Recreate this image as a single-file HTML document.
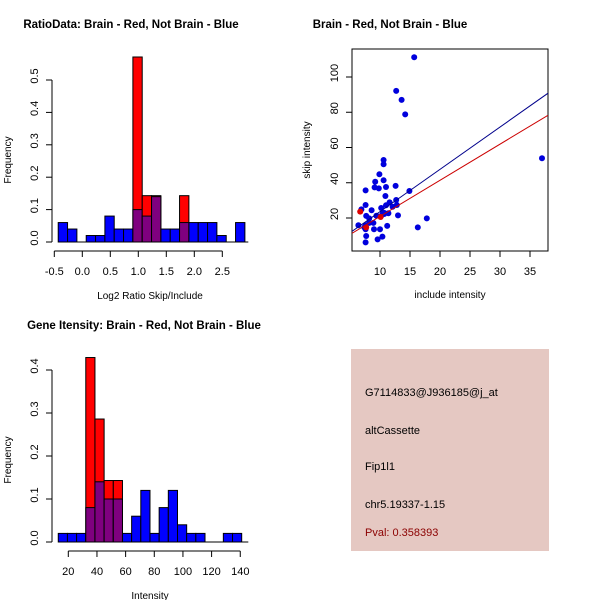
<!DOCTYPE html>
<html><head><meta charset="utf-8"><style>
body{margin:0;background:#fff;}
svg{display:block;font-family:"Liberation Sans",sans-serif;}
</style></head><body>
<svg id="c" width="600" height="600" viewBox="0 0 600 600" xmlns="http://www.w3.org/2000/svg">
<rect width="600" height="600" fill="#fff"/>
<g id="p1"></g>
<g id="p2"></g>
<g id="p3"></g>
<g>
<rect x="351" y="349" width="198" height="202" fill="#e5c8c2"/>
<text x="365" y="396" font-size="11" fill="#000">G7114833@J936185@j_at</text>
<text x="365" y="434" font-size="11" fill="#000">altCassette</text>
<text x="365" y="470" font-size="11" fill="#000">Fip1l1</text>
<text x="365" y="508" font-size="11" fill="#000">chr5.19337-1.15</text>
<text x="365" y="536" font-size="11" fill="#8b0000">Pval: 0.358393</text>
</g>
</svg>
<script>
// Ratio histogram data
const ratioBinStart = -0.43;
const ratioBinWidth = 1/6;
const ratioBlue = [0.06,0.04,0,0.02,0.02,0.08,0.04,0.04,0.10,0.08,0.14,0.04,0.04,0.06,0.06,0.06,0.06,0.02,0,0.06];
const ratioRed  = [0,0,0,0,0,0,0,0,0.571,0.143,0.143,0,0,0.143,0,0,0,0,0,0];
const ratioXTicks = [-0.5,0,0.5,1,1.5,2,2.5];
const ratioXTickLabels = ["-0.5","0.0","0.5","1.0","1.5","2.0","2.5"];
const ratioYTicks = [0,0.1,0.2,0.3,0.4,0.5];
const ratioYTickLabels = ["0.0","0.1","0.2","0.3","0.4","0.5"];

// Intensity histogram data
const intBinStart = 13;
const intBinWidth = 6.4;
const intBlue = [0.02,0.02,0.02,0.08,0.14,0.10,0.10,0.02,0.06,0.12,0.02,0.08,0.12,0.04,0.02,0.02,0,0,0.02,0.02];
const intRed  = [0,0,0,0.429,0.286,0.143,0.143,0,0,0,0,0,0,0,0,0,0,0,0,0];
const intXTicks = [20,40,60,80,100,120,140];
const intXTickLabels = ["20","40","60","80","100","120","140"];
const intYTicks = [0,0.1,0.2,0.3,0.4];
const intYTickLabels = ["0.0","0.1","0.2","0.3","0.4"];

// Scatter data
const scatterX = [15.7,12.7,13.6,14.2,37.0,10.6,10.6,9.9,9.2,10.6,9.8,9.1,7.6,11.0,12.6,10.9,14.9,12.7,11.6,11.0,12.8,10.5,7.6,6.9,8.6,7.7,8.2,9.4,10.2,10.7,11.4,13.0,12.1,6.4,17.8,16.3,11.2,7.6,7.4,8.9,8.2,7.6,9.0,10.0,7.7,10.4,9.6,7.6,10.7,10.2];
const scatterY = [111.2,92.1,87.0,78.8,53.9,52.9,50.5,44.8,40.6,41.4,36.8,37.4,35.7,37.6,38.2,32.5,35.3,30.2,28.9,27.2,27.4,23.0,27.4,24.9,24.4,21.2,19.8,21.3,25.7,22.9,22.7,21.5,26.4,15.9,19.8,14.7,15.5,15.9,14.7,17.2,17.2,13.6,13.6,13.6,9.8,9.4,7.9,6.2,22.3,21.2];
const redX = [6.7,10.1,7.7];
const redY = [23.6,20.6,14.7];
const blueFit = [-0.4, 2.4];   // intercept, slope
const redFit = [0.4, 2.05];
const scXTicks = [10,15,20,25,30,35];
const scYTicks = [20,40,60,80,100];

const NS="http://www.w3.org/2000/svg";
function el(parent, tag, attrs){const e=document.createElementNS(NS,tag);for(const k in attrs)e.setAttribute(k,attrs[k]);parent.appendChild(e);return e;}
function txt(parent, x, y, s, size, extra){const t=el(parent,'text',Object.assign({x:x,y:y,'font-size':size,'text-anchor':'middle'},extra||{}));t.textContent=s;return t;}

function hist(g, cfg){
  const sx=v=>cfg.x0+(v-cfg.xmin)*cfg.xs;
  const sy=v=>cfg.y0-v*cfg.ys;
  const n=cfg.blue.length;
  for(let i=0;i<n;i++){
    const a=cfg.start+i*cfg.w, b=a+cfg.w;
    const x1=sx(a), x2=sx(b);
    const bl=cfg.blue[i], rd=cfg.red[i];
    if(rd>0){
      const r=el(g,'rect',{x:x1,y:sy(rd),width:x2-x1,height:sy(0)-sy(rd),fill:'#ff0000',stroke:'#000','stroke-width':1});
      
      
    }
    if(bl>0){
      const col = rd>0 ? '#7f007f' : '#0000ff';
      const r=el(g,'rect',{x:x1,y:sy(bl),width:x2-x1,height:sy(0)-sy(bl),fill:col,stroke:'#000','stroke-width':1});
      
      
    }
  }
  el(g,'line',{x1:sx(cfg.start),x2:cfg.x0+ (cfg.baseEnd),y1:cfg.y0,y2:cfg.y0,stroke:'#000'});
  const ya=el(g,'g',{});
  
  
  const yt=cfg.yticks;
  el(ya,'line',{x1:cfg.ax,x2:cfg.ax,y1:sy(yt[0]),y2:sy(yt[yt.length-1]),stroke:'#000'});
  yt.forEach((v,i)=>{
    el(ya,'line',{x1:cfg.ax-6,x2:cfg.ax,y1:sy(v),y2:sy(v),stroke:'#000'});
    txt(ya,cfg.ax-14,sy(v)+4,cfg.ylabels[i],11,{transform:`rotate(-90 ${cfg.ax-18} ${sy(v)})`});
  });
  const yl=txt(g,0,0,'Frequency',10,{transform:`translate(11 ${cfg.ymid}) rotate(-90)`});
  
  
  const xa=el(g,'g',{});
  
  
  const xt=cfg.xticks;
  el(xa,'line',{x1:sx(xt[0]),x2:sx(xt[xt.length-1]),y1:cfg.axy,y2:cfg.axy,stroke:'#000'});
  xt.forEach((v,i)=>{
    el(xa,'line',{x1:sx(v),x2:sx(v),y1:cfg.axy,y2:cfg.axy+6,stroke:'#000'});
    txt(xa,sx(v),cfg.axy+24,cfg.xlabels[i],11);
  });
  const xl=txt(g,150,cfg.axy+48,cfg.xtitle,10);
  
  
  const tt=txt(g,cfg.tx,cfg.ty,cfg.title,11.5,{'font-weight':'bold'});
  
  
}

hist(document.getElementById('p1'),{x0:54.3,xmin:-0.5,xs:56,y0:242,ys:324,start:ratioBinStart,w:ratioBinWidth,
  blue:ratioBlue,red:ratioRed,baseEnd:194,ax:52,axy:251,xticks:ratioXTicks,xlabels:ratioXTickLabels,
  yticks:ratioYTicks,ylabels:ratioYTickLabels,ymid:160,xtitle:'Log2 Ratio Skip/Include',
  title:'RatioData: Brain - Red, Not Brain - Blue',tx:131,ty:28});
hist(document.getElementById('p3'),{x0:68.3,xmin:20,xs:1.433,y0:542,ys:430,start:intBinStart,w:intBinWidth,
  blue:intBlue,red:intRed,baseEnd:180,ax:52,axy:551,xticks:intXTicks,xlabels:intXTickLabels,
  yticks:intYTicks,ylabels:intYTickLabels,ymid:460,xtitle:'Intensity',
  title:'Gene Itensity: Brain - Red, Not Brain - Blue',tx:144,ty:329});

(function(){
  const g=document.getElementById('p2');
  const L=352,R=548,T=49,B=251;
  const sx=v=>380+(v-10)*6;
  const sy=v=>218-(v-20)*1.7625;
  const xmin=(L-380)/6+10, xmax=(R-380)/6+10;
  el(g,'rect',{x:L,y:T,width:R-L,height:B-T,fill:'none',stroke:'#000'});
  const cp=el(g,'clipPath',{id:'scclip'});
  el(cp,'rect',{x:L,y:T,width:R-L,height:B-T});
  const pts=el(g,'g',{'clip-path':'url(#scclip)'});
  scatterX.forEach((x,i)=>{
    const c=el(pts,'circle',{cx:sx(x),cy:sy(scatterY[i]),r:3,fill:'#0000dd'});
    
    
  });
  redX.forEach((x,i)=>{
    const c=el(pts,'circle',{cx:sx(x),cy:sy(redY[i]),r:3,fill:'#dd0000'});
    
    
  });
  const bl=el(pts,'line',{x1:sx(xmin),y1:sy(blueFit[0]+blueFit[1]*xmin),x2:sx(xmax),y2:sy(blueFit[0]+blueFit[1]*xmax),stroke:'#00008b','stroke-width':1});
  
  
  const rl=el(pts,'line',{x1:sx(xmin),y1:sy(redFit[0]+redFit[1]*xmin),x2:sx(xmax),y2:sy(redFit[0]+redFit[1]*xmax),stroke:'#cc0000','stroke-width':1});
  
  
  const xa=el(g,'g',{});
  
  
  scXTicks.forEach(v=>{
    el(xa,'line',{x1:sx(v),x2:sx(v),y1:B,y2:B+6,stroke:'#000'});
    txt(xa,sx(v),B+24,String(v),11);
  });
  const ya=el(g,'g',{});
  
  
  scYTicks.forEach(v=>{
    el(ya,'line',{x1:L-6,x2:L,y1:sy(v),y2:sy(v),stroke:'#000'});
    txt(ya,L-14,sy(v)+4,String(v),11,{transform:`rotate(-90 ${L-18} ${sy(v)})`});
  });
  const xl=txt(g,450,298,'include intensity',10);
  
  
  const yl=txt(g,0,0,'skip intensity',10,{transform:`translate(310 150) rotate(-90)`});
  
  
  const tt=txt(g,390,28,'Brain - Red, Not Brain - Blue',11.5,{'font-weight':'bold'});
  
  
})();
</script>
</body></html>
